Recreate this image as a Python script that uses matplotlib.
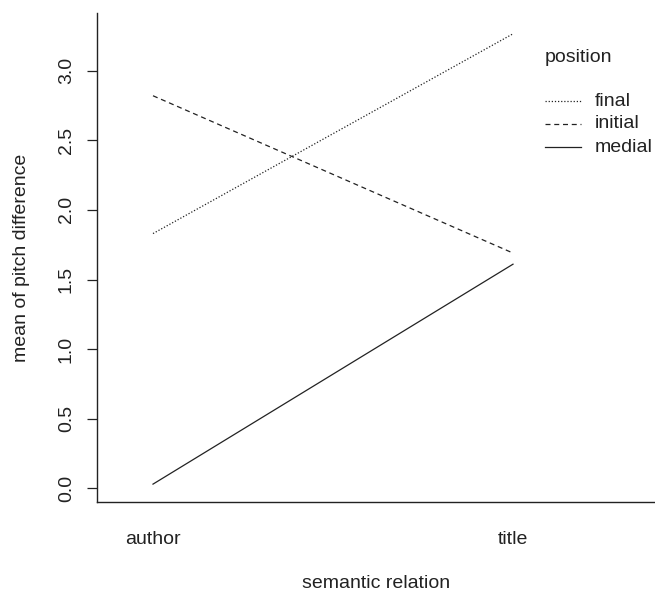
import matplotlib
matplotlib.use("Agg")
import matplotlib.pyplot as plt

plt.rcParams['font.family'] = ['Liberation Sans', 'DejaVu Sans']

categories = ["author", "title"]
series_names = ["final", "initial", "medial"]
final_vals = [1.83, 3.265]
initial_vals = [2.82, 1.69]
medial_vals = [0.03, 1.61]
yticks = [0.0, 0.5, 1.0, 1.5, 2.0, 2.5, 3.0]
ytick_labels = ["0.0", "0.5", "1.0", "1.5", "2.0", "2.5", "3.0"]

FS = 14
TC = "#222222"
W, H = 655, 593
fig = plt.figure(figsize=(W / 100, H / 100), dpi=100)
left, right, top, bottom = 97, 655, 13, 502
ax = fig.add_axes([left / W, 1 - bottom / H, (right - left) / W, (bottom - top) / H])

xpos = [1, 2]
styles = [(0, (1, 1.5)), (0, (4, 3)), "-"]
for vals, ls in zip([final_vals, initial_vals, medial_vals], styles):
    ax.plot(xpos, vals, color=TC, lw=0.9, linestyle=ls)

ax.set_xlim(1 - 56 / 360, 2 + 142 / 360)
ax.set_ylim(-(502 - 488.3) / 139.2, (488.3 - 13) / 139.2)

for s in ["top", "right"]:
    ax.spines[s].set_visible(False)
for s in ["left", "bottom"]:
    ax.spines[s].set_linewidth(1.0)
    ax.spines[s].set_color(TC)

ax.set_yticks(yticks)
ax.set_yticklabels(ytick_labels, rotation=90, va="center", fontsize=FS, color=TC)
ax.tick_params(axis="y", length=7, width=0.9, color=TC, pad=9)
ax.set_xticks(xpos)
ax.set_xticklabels(categories, fontsize=FS, color=TC)
ax.tick_params(axis="x", length=0, pad=21)

ax.set_ylabel("mean of pitch difference", fontsize=FS, color=TC, va="center")
ax.yaxis.set_label_coords((22 - 97) / 558, 0.5)
ax.set_xlabel("semantic relation", fontsize=FS, color=TC, va="center")
ax.xaxis.set_label_coords(0.5, (502 - 583) / 489)

# legend
fig.text(545 / W, 1 - 57 / H, "position", fontsize=FS, color=TC, va="center", ha="left")
ys = [101, 124, 147]
for name, ls, yy in zip(series_names, styles, ys):
    fig.add_artist(plt.Line2D([545 / W, 581 / W], [1 - yy / H, 1 - yy / H],
                              color=TC, lw=0.9, linestyle=ls))
    fig.text(595 / W, 1 - yy / H, name, fontsize=FS, color=TC, va="center", ha="left")

fig.savefig("out.png", dpi=100)
